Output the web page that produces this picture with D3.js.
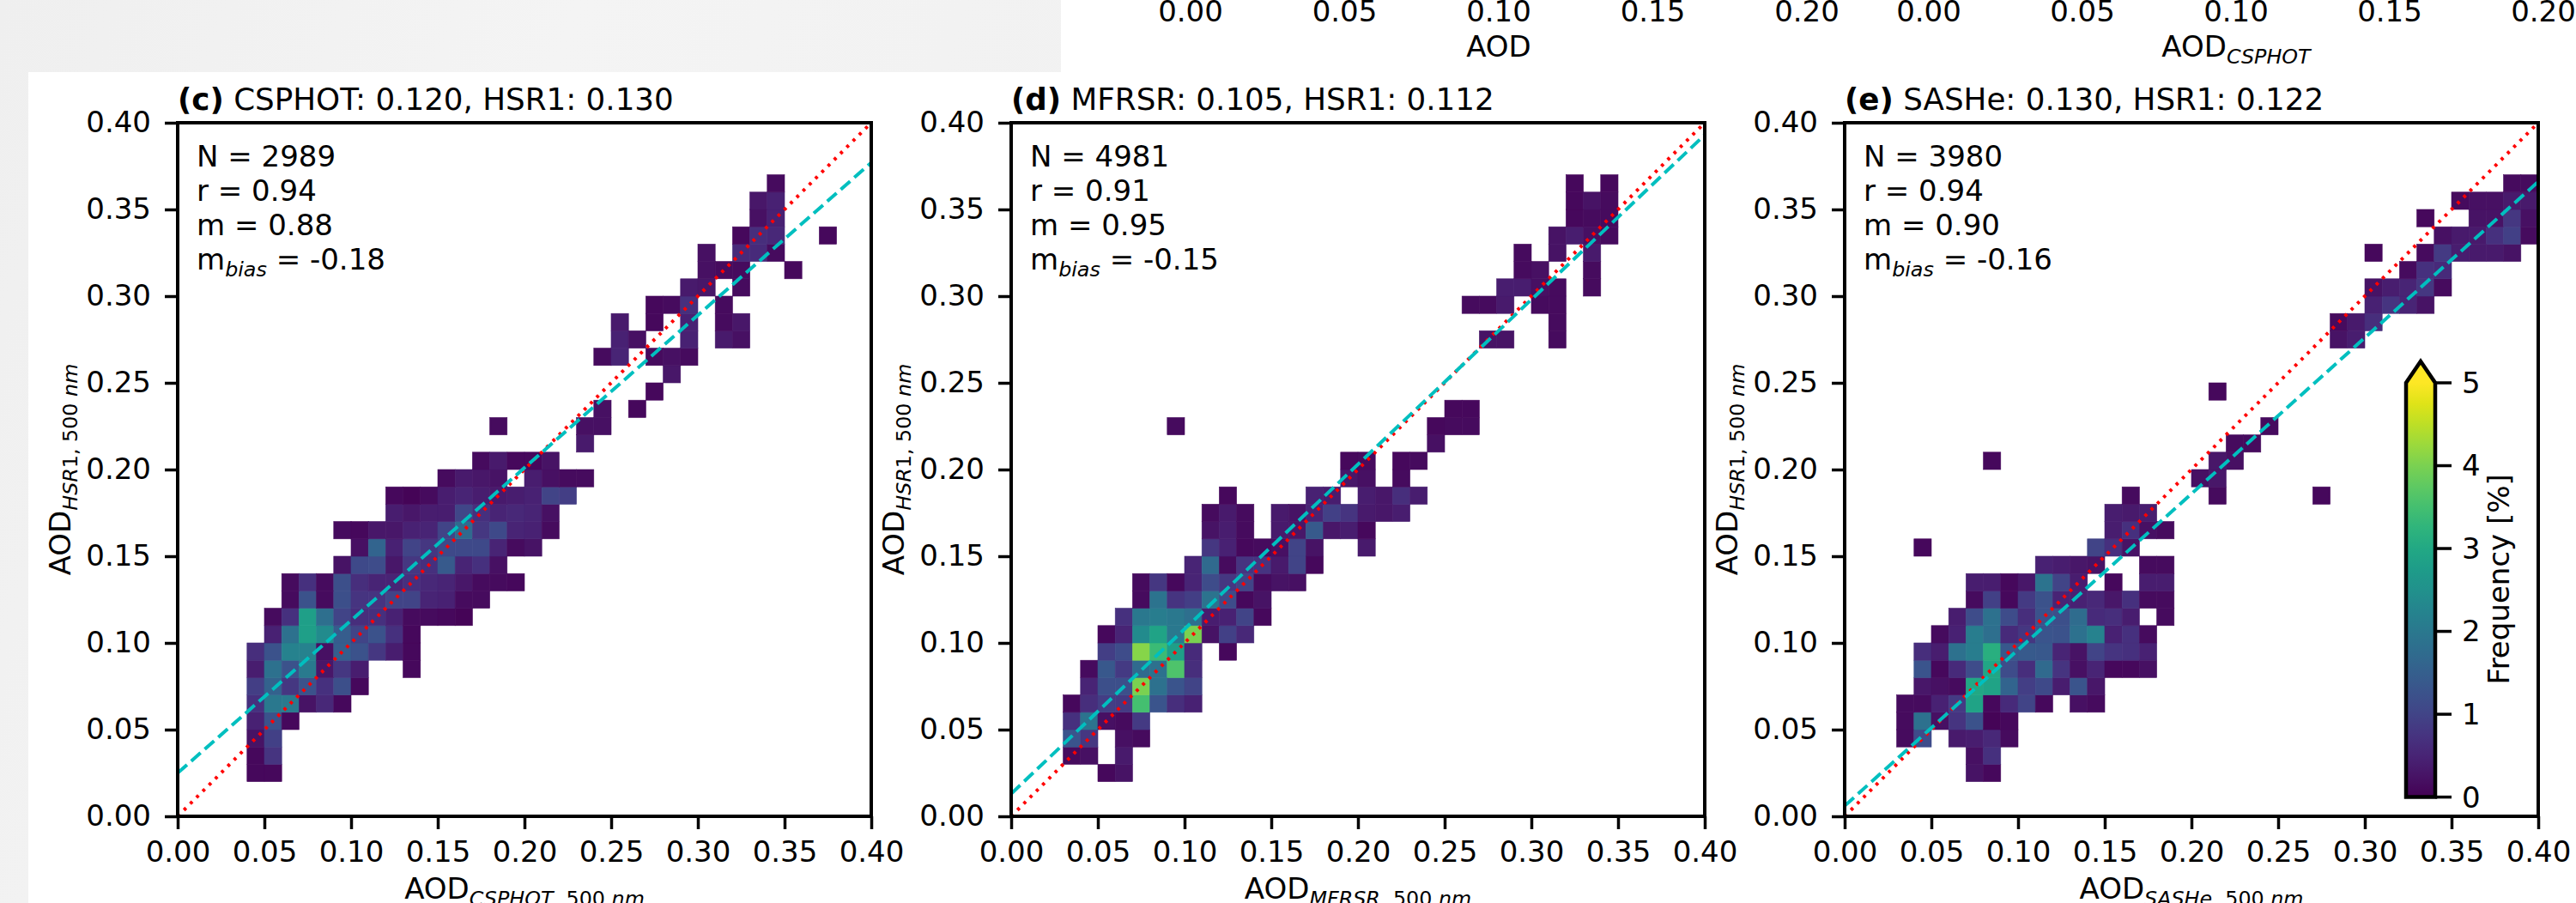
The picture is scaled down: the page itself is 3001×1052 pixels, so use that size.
<!DOCTYPE html>
<html>
<head>
  <meta charset="utf8">
  <script src="https://d3js.org/d3.v7.min.js"></script>
  <style>
    body { margin: 0; background: #fff; }
    text { font-family: 'DejaVu Sans', sans-serif; fill: #000; }
  </style>
</head>
<body>
  <svg id="chart" width="3001" height="1052" viewBox="0 0 3001 1052"></svg>
  <script>
    // panel headers and stats
    var panelTags = ['(c)', '(d)', '(e)'];
    var panelTitles = ['CSPHOT: 0.120, HSR1: 0.130', 'MFRSR: 0.105, HSR1: 0.112', 'SASHe: 0.130, HSR1: 0.122'];
    var refNames = ['CSPHOT', 'MFRSR', 'SASHe'];
    var statN = ['2989', '4981', '3980'];
    var statR = ['0.94', '0.91', '0.94'];
    var statM = ['0.88', '0.95', '0.90'];
    var statBias = ['-0.18', '-0.15', '-0.16'];
    var fitSlope = [0.88, 0.95, 0.90];
    var fitIntercept = [0.025, 0.013, 0.006];

    var axisTicks = [0, 0.05, 0.10, 0.15, 0.20, 0.25, 0.30, 0.35, 0.40];
    var cbarTicks = [0, 1, 2, 3, 4, 5];
    // the row of panels above is cut off, only its x tick labels show
    var upperTicks = [0, 0.05, 0.10, 0.15, 0.20];
    var upperSubs = ['', 'CSPHOT'];

    // histogram rows: [y bin start, first x bin start, frequency % of consecutive 0.01 bins (0 = empty)]
    var freqC = [
      [0.02, 0.04, [0.1, 0.1]],
      [0.03, 0.04, [0.1, 0.75]],
      [0.04, 0.04, [0.25, 0.95]],
      [0.05, 0.04, [0.45, 1.25, 0.1]],
      [0.06, 0.04, [0.7, 2.0, 2.05, 0.25, 0.55, 0.1]],
      [0.07, 0.04, [0.9, 1.55, 0.8, 1.25, 0.7, 1.2, 0.1]],
      [0.08, 0.04, [0.4, 1.85, 1.25, 2.05, 0.3, 0.8, 0.4, 0, 0, 0.1]],
      [0.09, 0.04, [0.65, 1.25, 2.2, 2.2, 0.2, 1.5, 1.25, 0.8, 0.4, 0.1]],
      [0.10, 0.05, [0.45, 1.85, 2.8, 2.4, 1.45, 1.0, 1.25, 0.7, 0.1]],
      [0.11, 0.05, [0.15, 0.7, 2.8, 1.8, 1.0, 0.65, 0.7, 0.45, 0.15, 0.15, 0.1, 0.05]],
      [0.12, 0.06, [0.15, 1.25, 0.15, 1.2, 0.75, 0.75, 1.0, 1.0, 0.5, 0.45, 0.15, 0.15]],
      [0.13, 0.06, [0.15, 0.7, 0.15, 1.2, 0.65, 0.5, 0.5, 0.7, 0.55, 0.5, 0.3, 0.15, 0.15, 0.1]],
      [0.14, 0.09, [0.25, 1.1, 1.15, 0.3, 0.8, 0.7, 1.4, 0.5, 0.7, 0.2]],
      [0.15, 0.10, [0.2, 1.6, 0.45, 1.0, 0.8, 1.1, 1.1, 1.1, 0.5, 0.15, 0.25]],
      [0.16, 0.09, [0.15, 0.1, 0.3, 0.3, 0.45, 0.5, 1.0, 1.7, 0.8, 1.1, 0.5, 0.45, 0.15]],
      [0.17, 0.12, [0.4, 0.3, 0.4, 0.4, 1.05, 0.7, 0.5, 0.55, 0.5, 0.2]],
      [0.18, 0.12, [0.1, 0.05, 0.15, 0.4, 0.5, 0.4, 0.35, 0.4, 0.45, 1.0, 0.9]],
      [0.19, 0.15, [0.15, 0.35, 0.3, 0.25, 0, 0.4, 0.2, 0.15, 0.15]],
      [0.20, 0.17, [0.15, 0.35, 0.1, 0.1, 0.25]],
      [0.21, 0.23, [0.35]],
      [0.22, 0.18, [0.15, 0, 0, 0, 0, 0.2, 0.2]],
      [0.23, 0.24, [0.2, 0, 0.1]],
      [0.24, 0.27, [0.1]],
      [0.25, 0.28, [0.3]],
      [0.26, 0.24, [0.15, 0.5, 0, 0.15, 0.2, 0.15]],
      [0.27, 0.25, [0.45, 0.2, 0, 0, 0.45, 0, 0.35, 0.2]],
      [0.28, 0.25, [0.35, 0, 0.1, 0, 0.45, 0, 0.15, 0.3]],
      [0.29, 0.27, [0.1, 0.15, 0.7, 0, 0.15]],
      [0.30, 0.29, [0.35, 0.3, 0, 0.15]],
      [0.31, 0.30, [0.2, 0.15, 0.15, 0, 0, 0.1]],
      [0.32, 0.30, [0.2, 0, 0.6, 0.6, 0.15]],
      [0.33, 0.32, [0.1, 0.65, 0.55, 0, 0, 0.1]],
      [0.34, 0.33, [0.2, 0.45]],
      [0.35, 0.33, [0.3, 0.45]],
      [0.36, 0.34, [0.15]]
    ];

    var freqD = [
      [0.02, 0.05, [0.1, 0.25]],
      [0.03, 0.03, [0.15, 0.2, 0, 0.35]],
      [0.04, 0.03, [1.3, 0.8, 0, 0.2, 0.15]],
      [0.05, 0.03, [0.7, 1.9, 0.2, 0.15, 0.85]],
      [0.06, 0.03, [0.1, 0.65, 0.9, 0.85, 3.5, 1.3, 0.65, 0.45]],
      [0.07, 0.04, [0.5, 1.2, 1.2, 4.0, 1.85, 1.3, 1.0]],
      [0.08, 0.04, [0.15, 1.35, 0.85, 1.7, 1.85, 3.6, 0.65]],
      [0.09, 0.05, [0.9, 1.15, 4.1, 3.4, 2.8, 0.6, 0, 0.1]],
      [0.10, 0.05, [0.1, 0.5, 2.4, 2.9, 2.0, 4.0, 0.25, 0.95, 0.55]],
      [0.11, 0.06, [0.7, 2.0, 2.1, 2.0, 1.8, 0.4, 0.45, 1.0, 0.1]],
      [0.12, 0.07, [0.15, 1.9, 0.75, 0.9, 1.9, 1.15, 0.1, 0.25]],
      [0.13, 0.07, [0.15, 0.8, 0.1, 0.5, 1.15, 0.8, 1.0, 0.15, 0.25, 0.2]],
      [0.14, 0.10, [0.5, 1.7, 0.15, 0.75, 0.75, 0.35, 1.0, 0.1]],
      [0.15, 0.11, [0.8, 0.45, 0.1, 0.15, 0.2, 1.0, 0.25, 0, 0, 0.35]],
      [0.16, 0.11, [0.25, 0.4, 0.15, 0, 0.35, 0.3, 1.4, 0.3, 0.4, 0.1]],
      [0.17, 0.11, [0.15, 0.35, 0.15, 0, 0.35, 0.25, 0.5, 0.95, 0.75, 0.35, 0.3, 0.4]],
      [0.18, 0.12, [0.1, 0, 0, 0, 0, 0.45, 0.4, 0, 0.4, 0.3, 0.65, 0.4]],
      [0.19, 0.19, [0.3, 0.2, 0, 0.15]],
      [0.20, 0.19, [0.1, 0.15, 0, 0.1, 0.15]],
      [0.21, 0.24, [0.2]],
      [0.22, 0.09, [0.15]],
      [0.22, 0.24, [0.1, 0.15, 0.15]],
      [0.23, 0.25, [0.1, 0.1]],
      [0.27, 0.27, [0.25, 0.25, 0, 0, 0.15]],
      [0.28, 0.31, [0.15]],
      [0.29, 0.26, [0.15, 0.15, 0.35, 0, 0.15, 0.15]],
      [0.30, 0.28, [0.4, 0.4, 0.2, 0.15, 0, 0.15]],
      [0.31, 0.29, [0.15, 0.2, 0, 0, 0.15]],
      [0.32, 0.29, [0.15, 0, 0.25, 0, 0.35]],
      [0.33, 0.31, [0.25, 0.4, 0.2, 0.15]],
      [0.34, 0.32, [0.1, 0.15, 0.15]],
      [0.35, 0.32, [0.1, 0.25, 0.15]],
      [0.36, 0.32, [0.1, 0, 0.1]]
    ];

    var freqE = [
      [0.02, 0.07, [0.25, 0.1]],
      [0.03, 0.07, [0.2, 0.7]],
      [0.04, 0.03, [0.15, 1.15, 0, 0.35, 0.4, 0.55, 0.15]],
      [0.05, 0.03, [0.15, 1.85, 0.2, 0.75, 1.25, 0.05, 0.1]],
      [0.06, 0.03, [0.15, 0.15, 0.45, 0.85, 2.9, 0.1, 0.6, 1.0, 0.1, 0, 0.2, 0.15]],
      [0.07, 0.04, [0.3, 0.2, 0.15, 3.0, 2.9, 1.6, 0.9, 1.1, 0.4, 1.3, 0.3]],
      [0.08, 0.04, [1.3, 0.1, 0.6, 1.15, 2.95, 1.15, 0.65, 1.7, 0.75, 0.2, 0.5, 0.1, 0.1, 0.2]],
      [0.09, 0.04, [0.65, 0.4, 1.85, 2.1, 3.15, 1.35, 1.4, 1.35, 0.5, 0.25, 1.0, 0.75, 0.7, 0.45]],
      [0.10, 0.05, [0.15, 0.45, 2.1, 1.8, 0.6, 0.8, 1.3, 1.25, 1.85, 2.2, 0.45, 0.7, 0.15]],
      [0.11, 0.06, [0.4, 1.15, 1.85, 1.15, 0.65, 1.25, 1.2, 1.75, 0.6, 0.65, 0.4, 0, 0.15]],
      [0.12, 0.07, [0.15, 0.95, 0.1, 0.85, 1.25, 0.5, 0.45, 0.55, 0.3, 0.7, 0.15, 0.15]],
      [0.13, 0.07, [0.4, 0.4, 0.1, 0.3, 1.9, 1.0, 0.4, 0, 0.1, 0, 0.4, 0.4]],
      [0.14, 0.11, [0.45, 0.4, 0.3, 0.25, 0, 0, 0.15, 0.15]],
      [0.15, 0.04, [0.1]],
      [0.15, 0.14, [1.0, 0.7, 0.25]],
      [0.16, 0.15, [0.4, 0.7, 0.2, 0.15]],
      [0.17, 0.15, [0.4, 0.35, 0.4]],
      [0.18, 0.16, [0.15]],
      [0.18, 0.21, [0.15]],
      [0.18, 0.27, [0.1]],
      [0.19, 0.20, [0.2, 0.3]],
      [0.20, 0.08, [0.1]],
      [0.20, 0.21, [0.3, 0.2]],
      [0.21, 0.22, [0.15, 0.15]],
      [0.22, 0.24, [0.15]],
      [0.24, 0.21, [0.1]],
      [0.27, 0.28, [0.25, 0.4]],
      [0.28, 0.28, [0.15, 0.35, 0.65]],
      [0.29, 0.30, [0.45, 0.75, 0.5, 0.25]],
      [0.30, 0.30, [0.25, 0.4, 0.5, 0.8, 0.15]],
      [0.31, 0.32, [0.15, 0.7, 0.6]],
      [0.32, 0.30, [0.1, 0, 0, 0.15, 0.85, 0.4, 0.35, 0.35, 0.25]],
      [0.33, 0.34, [0.2, 0.35, 0.35, 0.7, 0.95, 0.15]],
      [0.34, 0.33, [0.1, 0, 0, 0.25, 0.25, 0.8, 0.2]],
      [0.35, 0.35, [0.15, 0.2, 0.2, 0.35, 0.35]],
      [0.36, 0.38, [0.15, 0.15]]
    ];

    var svg = d3.select('#chart');
    var fs = 34;
    var axSize = 808, axTop = 143;
    var axLeft = [207, 1178, 2149];
    var binW = 0.01;
    var color = (v) => d3.interpolateViridis(Math.min(v, 5) / 5);
    var fmt = d3.format('.2f');

    // grey page background peeking in at the top left
    var grad = svg.append('defs').append('linearGradient')
      .attr('id', 'bg').attr('x1', 0).attr('y1', 0).attr('x2', 1).attr('y2', 0.3);
    grad.append('stop').attr('offset', 0).attr('stop-color', '#efefef');
    grad.append('stop').attr('offset', 0.5).attr('stop-color', '#f4f4f4');
    grad.append('stop').attr('offset', 1).attr('stop-color', '#f1f1f1');
    svg.append('path')
      .attr('d', 'M0,0H1236V84H33V1052H0Z')
      .attr('fill', 'url(#bg)');

    // leftovers of the upper row of panels
    [[1387, 2105], [2247, 2963]].forEach((r, k) => {
      var xu = d3.scaleLinear().domain([0, 0.2]).range(r);
      svg.append('g').selectAll('text').data(upperTicks).enter().append('text')
        .attr('x', (d) => xu(d)).attr('y', 25)
        .attr('text-anchor', 'middle').attr('font-size', fs)
        .text(fmt);
      var lab = svg.append('text')
        .attr('x', (r[0] + r[1]) / 2).attr('y', 66)
        .attr('text-anchor', 'middle').attr('font-size', fs);
      lab.append('tspan').text('AOD');
      if (upperSubs[k]) {
        lab.append('tspan').attr('font-style', 'italic').attr('font-size', fs * 0.7)
          .attr('dy', 8).text(upperSubs[k]);
      }
    });

    [freqC, freqD, freqE].forEach((rows, p) => {
      var x = d3.scaleLinear().domain([0, 0.4]).range([0, axSize]);
      var y = d3.scaleLinear().domain([0, 0.4]).range([axSize, 0]);
      var g = svg.append('g').attr('transform', 'translate(' + axLeft[p] + ',' + axTop + ')');

      var clipId = 'clip' + p;
      svg.select('defs').append('clipPath').attr('id', clipId)
        .append('rect').attr('width', axSize).attr('height', axSize);

      var cells = [];
      rows.forEach((r) => r[2].forEach((v, k) => {
        if (v > 0) cells.push({ x: Math.round(r[1] * 100 + k) / 100, y: r[0], v: v });
      }));

      g.append('g').selectAll('rect').data(cells).enter().append('rect')
        .attr('x', (d) => x(d.x))
        .attr('y', (d) => y(d.y + binW))
        .attr('width', x(binW) - x(0))
        .attr('height', y(0) - y(binW))
        .attr('fill', (d) => color(d.v))
        .attr('stroke', (d) => color(d.v))
        .attr('stroke-width', 0.6);

      var lines = g.append('g').attr('clip-path', 'url(#' + clipId + ')');
      lines.append('line')
        .attr('x1', x(0)).attr('y1', y(0)).attr('x2', x(0.4)).attr('y2', y(0.4))
        .attr('stroke', '#ff0000').attr('stroke-width', 4)
        .attr('stroke-dasharray', '3.5,6.8');
      lines.append('line')
        .attr('x1', x(0)).attr('y1', y(fitIntercept[p]))
        .attr('x2', x(0.4)).attr('y2', y(fitIntercept[p] + fitSlope[p] * 0.4))
        .attr('stroke', '#00bfbf').attr('stroke-width', 4)
        .attr('stroke-dasharray', '14.5,6.5');

      // axes
      var xAxis = g.append('g')
        .attr('transform', 'translate(0,' + axSize + ')')
        .call(d3.axisBottom(x).tickValues(axisTicks).tickFormat(fmt).tickSize(15).tickPadding(14));
      var yAxis = g.append('g')
        .call(d3.axisLeft(y).tickValues(axisTicks).tickFormat(fmt).tickSize(15).tickPadding(16));
      [xAxis, yAxis].forEach((a) => {
        a.select('.domain').remove();
        a.selectAll('line').attr('stroke-width', 3.5);
        a.selectAll('text').attr('font-size', fs).attr('font-family', 'DejaVu Sans');
      });

      g.append('rect')
        .attr('width', axSize).attr('height', axSize)
        .attr('fill', 'none').attr('stroke', '#000').attr('stroke-width', 4);

      // title
      var t = g.append('text').attr('x', 0).attr('y', -15).attr('font-size', 35.7);
      t.append('tspan').attr('font-weight', 'bold').text(panelTags[p]);
      t.append('tspan').text(' ' + panelTitles[p]);

      // stats box
      var sx = 22;
      g.append('text').attr('x', sx).attr('y', 51).attr('font-size', fs).text('N = ' + statN[p]);
      g.append('text').attr('x', sx).attr('y', 91).attr('font-size', fs).text('r = ' + statR[p]);
      g.append('text').attr('x', sx).attr('y', 131).attr('font-size', fs).text('m = ' + statM[p]);
      var mb = g.append('text').attr('x', sx).attr('y', 171).attr('font-size', fs);
      mb.append('tspan').text('m');
      mb.append('tspan').attr('font-style', 'italic').attr('font-size', fs * 0.7).attr('dy', 8).text('bias');
      mb.append('tspan').attr('dy', -8).text(' = ' + statBias[p]);

      // axis labels
      var xl = g.append('text')
        .attr('x', axSize / 2).attr('y', 904)
        .attr('text-anchor', 'middle').attr('font-size', fs);
      xl.append('tspan').text('AOD');
      xl.append('tspan').attr('dy', 8).attr('font-size', fs * 0.7).attr('font-style', 'italic').text(refNames[p]);
      xl.append('tspan').attr('font-size', fs * 0.7).text(', 500 ');
      xl.append('tspan').attr('font-size', fs * 0.7).attr('font-style', 'italic').text('nm');

      var yl = g.append('text')
        .attr('transform', 'translate(-125,' + axSize / 2 + ') rotate(-90)')
        .attr('text-anchor', 'middle').attr('font-size', fs);
      yl.append('tspan').text('AOD');
      yl.append('tspan').attr('dy', 8).attr('font-size', fs * 0.7).attr('font-style', 'italic').text('HSR');
      yl.append('tspan').attr('font-size', fs * 0.7).text('1, 500 ');
      yl.append('tspan').attr('font-size', fs * 0.7).attr('font-style', 'italic').text('nm');
    });

    // colorbar inside panel (e)
    var cbL = 2803, cbR = 2837, cbB = 928.6, cbT = 446, cbTip = 421;
    var cb = d3.scaleLinear().domain([0, 5]).range([cbB, cbT]);
    var cg = svg.select('defs').append('linearGradient')
      .attr('id', 'viridis').attr('x1', 0).attr('y1', 1).attr('x2', 0).attr('y2', 0);
    d3.range(0, 1.0001, 0.05).forEach((s) => {
      cg.append('stop').attr('offset', s).attr('stop-color', d3.interpolateViridis(s));
    });
    svg.append('rect')
      .attr('x', cbL).attr('y', cbT).attr('width', cbR - cbL).attr('height', cbB - cbT)
      .attr('fill', 'url(#viridis)');
    svg.append('path')
      .attr('d', 'M' + cbL + ',' + cbT + 'L' + (cbL + cbR) / 2 + ',' + cbTip + 'L' + cbR + ',' + cbT + 'Z')
      .attr('fill', color(5));
    svg.append('path')
      .attr('d', 'M' + cbL + ',' + cbB + 'V' + cbT + 'L' + (cbL + cbR) / 2 + ',' + cbTip +
        'L' + cbR + ',' + cbT + 'V' + cbB + 'Z')
      .attr('fill', 'none').attr('stroke', '#000').attr('stroke-width', 4.5)
      .attr('stroke-linejoin', 'miter');
    svg.append('g').selectAll('line').data(cbarTicks).enter().append('line')
      .attr('x1', cbR).attr('x2', cbR + 19)
      .attr('y1', (d) => cb(d)).attr('y2', (d) => cb(d))
      .attr('stroke', '#000').attr('stroke-width', 3.5);
    svg.append('g').selectAll('text').data(cbarTicks).enter().append('text')
      .attr('x', cbR + 31).attr('y', (d) => cb(d)).attr('dy', '0.35em')
      .attr('font-size', fs).text((d) => d);
    svg.append('text')
      .attr('transform', 'translate(2923,' + (cbB + cbTip) / 2 + ') rotate(-90)')
      .attr('text-anchor', 'middle').attr('font-size', fs)
      .text('Frequency [%]');
  </script>
</body>
</html>
